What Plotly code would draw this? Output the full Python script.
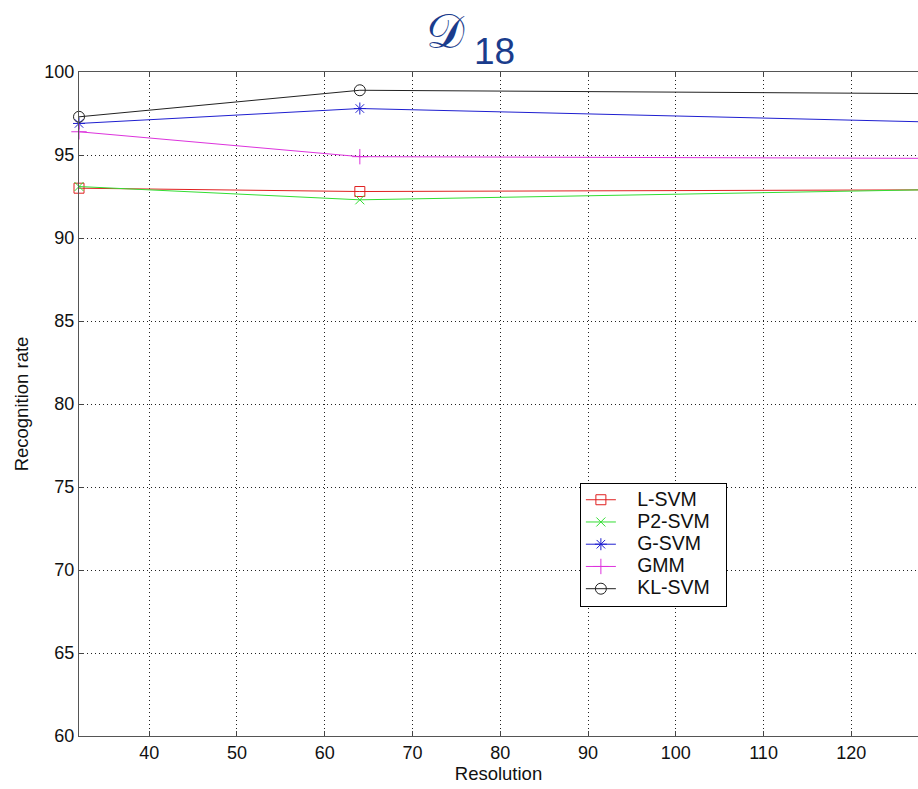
import plotly.graph_objects as go

resolution = [32, 64, 128]
l_svm = [93.0, 92.8, 92.9]
p2_svm = [93.1, 92.3, 92.9]
g_svm = [96.9, 97.8, 97.0]
gmm = [96.4, 94.9, 94.8]
kl_svm = [97.3, 98.9, 98.7]

series = [
    ("L-SVM", l_svm, "#e02020", "square-open", 10),
    ("P2-SVM", p2_svm, "#33dd33", "x-thin-open", 9),
    ("G-SVM", g_svm, "#1f1fd0", "asterisk-open", 10),
    ("GMM", gmm, "#dd33dd", "cross-thin-open", 11),
    ("KL-SVM", kl_svm, "#222222", "circle-open", 11),
]

fig = go.Figure()
for name, vals, color, sym, size in series:
    fig.add_trace(go.Scatter(
        x=resolution, y=vals,
        name='<span style="font-size:19.5px">&nbsp;&nbsp;&nbsp;' + name + '&nbsp;&nbsp;</span>',
        mode="lines+markers",
        line=dict(color=color, width=1),
        marker=dict(symbol=sym, size=size, color=color, line=dict(color=color, width=1)),
        cliponaxis=False,
    ))

axis_common = dict(
    showgrid=True, gridcolor="#222222", griddash="1px,3px", gridwidth=1,
    ticks="inside", ticklen=5, tickcolor="#444444",
    showline=True, linecolor="#555555", linewidth=1,
    zeroline=False, automargin=False,
    tickfont=dict(family="Liberation Sans, Arial", size=18, color="#111111"),
)

fig.update_layout(
    width=918, height=789,
    paper_bgcolor="white", plot_bgcolor="white",
    margin=dict(l=79, r=0, t=72, b=53),
    font=dict(family="Liberation Sans, Arial", size=18, color="#111111"),
    xaxis=dict(range=[32, 127.6], tickvals=[40, 50, 60, 70, 80, 90, 100, 110, 120],
               mirror="ticks",
               title=dict(text="Resolution", standoff=0, font=dict(size=18.5)),
               **axis_common),
    yaxis=dict(range=[60, 100], tickvals=[60, 65, 70, 75, 80, 85, 90, 95, 100],
               mirror=False,
               title=dict(text="Recognition rate", standoff=10, font=dict(size=18.5)),
               **axis_common),
    showlegend=True,
    legend=dict(x=0.597, y=0.3816, xanchor="left", yanchor="top",
                bgcolor="white", bordercolor="#000000", borderwidth=1,
                font=dict(size=14.8, family="Liberation Sans, Arial"),
                tracegroupgap=0, itemwidth=30),
    annotations=[
        dict(text="𝒟", xref="paper", yref="paper",
             x=0.4374, y=1.0617, xanchor="center", yanchor="middle",
             showarrow=False,
             font=dict(size=48, color="#1a3c8c", family="DejaVu Sans")),
        dict(text="18", xref="paper", yref="paper",
             x=0.4684, y=1.0316, xanchor="left", yanchor="middle",
             showarrow=False,
             font=dict(size=37, color="#1a3c8c", family="Liberation Sans, Arial")),
    ],
)

fig.write_html(
    "out.html",
    config={"displayModeBar": False},
    post_script="document.documentElement.style.overflow='hidden';"
                "document.body.style.margin='0';document.body.style.overflow='hidden';",
)
